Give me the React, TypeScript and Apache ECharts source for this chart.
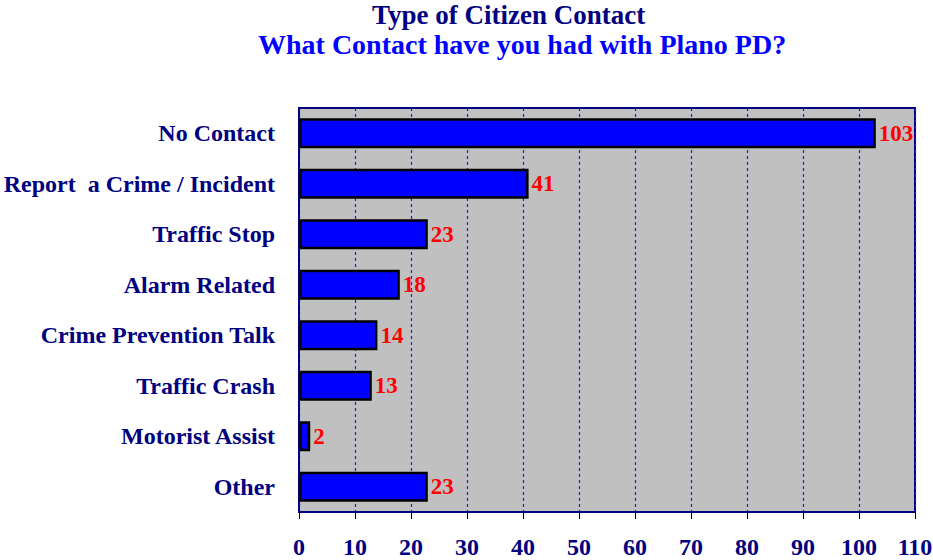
import React, { useEffect, useRef } from "react";
import * as echarts from "echarts";

const titleText = "Type of Citizen Contact";
const subtitleText = "What Contact have you had with Plano PD?";
const categories = [
  "No Contact",
  "Report  a Crime / Incident",
  "Traffic Stop",
  "Alarm Related",
  "Crime Prevention Talk",
  "Traffic Crash",
  "Motorist Assist",
  "Other",
];
const values = [103, 41, 23, 18, 14, 13, 2, 23];
const xMin = 0;
const xMax = 110;
const xInterval = 10;

const FONT = "'Liberation Serif', 'Times New Roman', serif";

export default function App() {
  const ref = useRef<HTMLDivElement>(null);
  useEffect(() => {
    if (!ref.current) return;
    const chart = echarts.init(ref.current, undefined, { renderer: "svg" });
    chart.setOption({
      animation: false,
      title: [
        {
          text: titleText,
          left: 372,
          top: 1,
          padding: 0,
          textStyle: { fontSize: 27, fontWeight: "bold", fontFamily: FONT, color: "#000080" },
        },
        {
          text: subtitleText,
          left: 258,
          top: 30,
          padding: 0,
          textStyle: { fontSize: 28, fontWeight: "bold", fontFamily: FONT, color: "#0000ff" },
        },
      ],
      grid: {
        left: 299,
        right: 18,
        top: 108,
        bottom: 48,
        outerBoundsMode: "none",
        containLabel: false,
        show: true,
        backgroundColor: "#c0c0c0",
        borderColor: "#000080",
        borderWidth: 2,
      },
      xAxis: {
        type: "value",
        min: xMin,
        max: xMax,
        interval: xInterval,
        axisLine: { show: true, lineStyle: { color: "#000080", width: 2 } },
        axisTick: { show: true, length: 7, lineStyle: { color: "#000000", width: 1 } },
        axisLabel: {
          margin: 23,
          fontSize: 24,
          fontWeight: "bold",
          fontFamily: FONT,
          color: "#000080",
          hideOverlap: false,
        },
        splitLine: { show: true, lineStyle: { color: "#1a1aff", type: [3, 3], width: 1.2 } },
      },
      yAxis: {
        type: "category",
        data: categories,
        inverse: true,
        axisLine: { show: true, lineStyle: { color: "#000080", width: 2 } },
        axisTick: { show: false },
        axisLabel: {
          margin: 24,
          fontSize: 24,
          fontWeight: "bold",
          fontFamily: FONT,
          color: "#000080",
        },
      },
      series: [
        {
          type: "bar",
          data: values,
          barWidth: 30,
          itemStyle: { color: "#0000ff", borderColor: "#000000", borderWidth: 2.5 },
          label: {
            show: true,
            position: "right",
            distance: 3,
            fontSize: 23,
            fontWeight: "bold",
            fontFamily: FONT,
            color: "#ff0000",
          },
        },
      ],
    });
    return () => chart.dispose();
  }, []);
  return (
    <div
      ref={ref}
      style={{ position: "fixed", left: 0, top: 0, width: 933, height: 560, background: "#ffffff" }}
    />
  );
}
